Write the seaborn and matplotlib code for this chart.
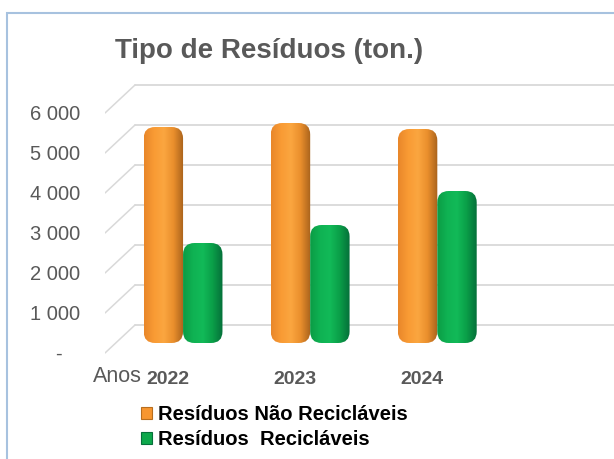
import numpy as np
import pandas as pd
import seaborn as sns
import matplotlib.pyplot as plt
from matplotlib.patches import FancyBboxPatch, Patch, Rectangle
from matplotlib.colors import LinearSegmentedColormap

# data (tonnes)
anos = ["2022", "2023", "2024"]
nao_reciclaveis = [5400, 5500, 5350]
reciclaveis = [2500, 2950, 3800]
series = ["Resíduos Não Recicláveis", "Resíduos  Recicláveis"]
y_ticks = [0, 1000, 2000, 3000, 4000, 5000, 6000]
y_labels = ["-   ", "1 000", "2 000", "3 000", "4 000", "5 000", "6 000"]

ORANGE = "#F7962F"
GREEN = "#0DA84B"
GRAY = "#595959"
GRID = "#D9D9D9"

df = pd.DataFrame({
    "ano": anos * 2,
    "valor": nao_reciclaveis + reciclaveis,
    "tipo": [series[0]] * 3 + [series[1]] * 3,
})

sns.set_theme(style="white")
plt.rcParams["font.family"] = ["Liberation Sans", "DejaVu Sans"]

fig = plt.figure(figsize=(6.14, 4.59), dpi=100)
# light blue chart border (only left/top visible in the crop)
fig.patches.append(Rectangle((7 / 614, -0.2), 2, 1.2 - 13 / 459, transform=fig.transFigure,
                             fill=False, edgecolor="#A7C2DF", linewidth=1.5))

ax = fig.add_axes([105 / 614, 1 - 360 / 459, 509 / 614, 290 / 459])
sns.barplot(data=df, x="ano", y="valor", hue="tipo", hue_order=series,
            palette=[ORANGE, GREEN], width=0.62, gap=0, ax=ax, legend=False,
            errorbar=None, zorder=3)

xlim = (-0.614, 3.39)
ylim = (-425, 6825)
front_off, back_off = -250, 450
front_x, back_x = xlim[0], -0.378

# pseudo 3D back wall: gridlines plus short perspective diagonals
for t in y_ticks:
    ax.plot([back_x, xlim[1]], [t + back_off, t + back_off], color=GRID, lw=1.3, zorder=0)
    ax.plot([front_x, back_x], [t + front_off, t + back_off], color=GRID, lw=1.1, zorder=0)

# shaded, rounded bars
cmaps = {
    ORANGE: LinearSegmentedColormap.from_list("o", ["#E9872A", "#F99B34", "#FBA640", "#E98E2C", "#A8621C"]),
    GREEN: LinearSegmentedColormap.from_list("g", ["#0B9C45", "#0FB253", "#12BA58", "#0A9E48", "#05703A"]),
}
asp = (1000 / 40) * 127
grad = np.linspace(0, 1, 64).reshape(1, -1)
for p in list(ax.patches):
    fc = p.get_facecolor()
    key = ORANGE if fc[0] > 0.5 else GREEN
    x, w, h = p.get_x(), p.get_width(), p.get_height()
    p.set_visible(False)
    box = FancyBboxPatch((x, 0), w, h, boxstyle="round,pad=0,rounding_size=0.09",
                         mutation_aspect=asp, facecolor="none", edgecolor="none", zorder=3)
    ax.add_patch(box)
    im = ax.imshow(grad, extent=[x, x + w, 0, h], aspect="auto", cmap=cmaps[key], zorder=3)
    im.set_clip_path(box)

ax.set_xlim(*xlim)
ax.set_ylim(*ylim)
ax.set_yticks(np.array(y_ticks) + front_off, labels=y_labels)
ax.set_xticks(np.arange(len(anos)) - 0.12, labels=anos)
ax.tick_params(axis="y", length=0, pad=18, labelsize=14.5, labelcolor=GRAY)
ax.tick_params(axis="x", length=0, pad=8, labelsize=14, labelcolor=GRAY)
for lbl in ax.get_xticklabels():
    lbl.set_fontweight("bold")
ax.set_xlabel("")
ax.set_ylabel("")
for s in ax.spines.values():
    s.set_visible(False)
ax.grid(False)

fig.text(269 / 614, 1 - 51 / 459, "Tipo de Resíduos (ton.)", ha="center", va="center",
         fontsize=20, fontweight="bold", color=GRAY)
fig.text(93 / 614, 1 - 377 / 459, "Anos", ha="left", va="center", fontsize=15.5, color=GRAY)

handles = [Patch(facecolor=ORANGE, edgecolor="#B86E1E", lw=0.8),
           Patch(facecolor=GREEN, edgecolor="#06703A", lw=0.8)]
fig.legend(handles, series, loc="center left", bbox_to_anchor=(141 / 614, 1 - 427 / 459),
           frameon=False, borderpad=0, borderaxespad=0, handlelength=0.55, handleheight=0.55,
           handletextpad=0.3, labelspacing=0.3, labelcolor="black",
           prop={"size": 14.5, "weight": "bold"})

fig.savefig("out.png", dpi=100, facecolor="white")
